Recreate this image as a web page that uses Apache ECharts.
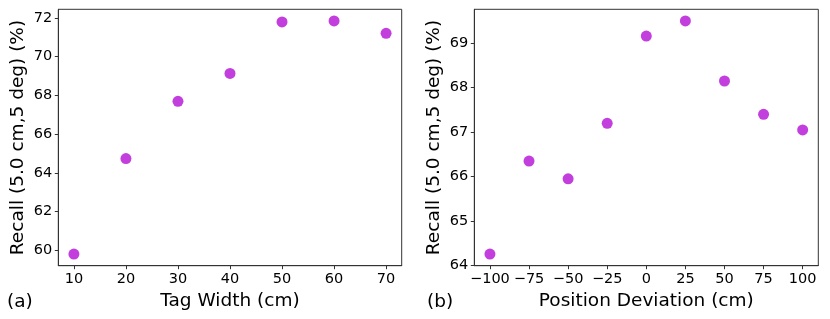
<!DOCTYPE html>
<html>
<head>
<meta charset="utf-8">
<script src="https://cdn.jsdelivr.net/npm/echarts@6/dist/echarts.min.js"></script>
<style>html,body{margin:0;padding:0;background:#fff}#c{width:830px;height:319px}</style>
</head>
<body>
<div id="c"></div>
<script>
// Panel (a)
var tagWidth = [10, 20, 30, 40, 50, 60, 70];
var recallA = [59.81, 64.74, 67.69, 69.13, 71.79, 71.84, 71.2];
var ticksAX = [10, 20, 30, 40, 50, 60, 70];
var ticksAY = [60, 62, 64, 66, 68, 70, 72];
// Panel (b)
var deviation = [-100, -75, -50, -25, 0, 25, 50, 75, 100];
var recallB = [64.26, 66.35, 65.95, 67.2, 69.16, 69.5, 68.15, 67.4, 67.05];
var ticksBX = [-100, -75, -50, -25, 0, 25, 50, 75, 100];
var ticksBY = [64, 65, 66, 67, 68, 69];

var FONT = 'DejaVu Sans';
var TXT = '#000';
var DOT = '#c23fdd';

function pad(arr) {
  var lo = Math.min.apply(null, arr), hi = Math.max.apply(null, arr);
  var m = (hi - lo) * 0.05;
  return [lo - m, hi + m];
}
var ax = pad(tagWidth), ay = pad(recallA), bx = pad(deviation), by = pad(recallB);

function fmt(v) { return (v < 0 ? '\u2212' + (-v) : String(v)); }

function xAxis(idx, ext, ticks, name) {
  return {
    type: 'value', gridIndex: idx, min: ext[0], max: ext[1],
    name: name, nameLocation: 'middle', nameGap: 23,
    nameTextStyle: {fontFamily: FONT, fontSize: 18.5, color: TXT},
    axisLine: {show: true, onZero: false, lineStyle: {color: '#333', width: 1}},
    axisTick: {show: true, customValues: ticks, length: 3.5, inside: false, lineStyle: {color: '#333'}},
    axisLabel: {customValues: ticks, formatter: fmt, fontFamily: FONT, fontSize: 14.5, color: TXT, margin: 6},
    splitLine: {show: false}
  };
}
function yAxis(idx, ext, ticks, name) {
  return {
    type: 'value', gridIndex: idx, min: ext[0], max: ext[1],
    name: name, nameLocation: 'middle', nameGap: 31,
    nameTextStyle: {fontFamily: FONT, fontSize: 18.5, color: TXT},
    axisLine: {show: true, onZero: false, lineStyle: {color: '#333', width: 1}},
    axisTick: {show: true, customValues: ticks, length: 3.5, inside: false, lineStyle: {color: '#333'}},
    axisLabel: {customValues: ticks, formatter: fmt, fontFamily: FONT, fontSize: 14.5, color: TXT, margin: 6},
    splitLine: {show: false}
  };
}

var chart = echarts.init(document.getElementById('c'), null, {renderer: 'canvas'});
chart.setOption({
  animation: false,
  backgroundColor: '#fff',
  grid: [
    {left: 58.3, top: 9.3, width: 343.4, height: 256.4, show: true, borderColor: '#333', borderWidth: 1, backgroundColor: 'transparent'},
    {left: 474.3, top: 9.3, width: 344, height: 256.4, show: true, borderColor: '#333', borderWidth: 1, backgroundColor: 'transparent'}
  ],
  xAxis: [
    xAxis(0, ax, ticksAX, 'Tag Width (cm)'),
    xAxis(1, bx, ticksBX, 'Position Deviation (cm)')
  ],
  yAxis: [
    yAxis(0, ay, ticksAY, 'Recall (5.0 cm,5 deg) (%)'),
    yAxis(1, by, ticksBY, 'Recall (5.0 cm,5 deg) (%)')
  ],
  series: [
    {type: 'scatter', xAxisIndex: 0, yAxisIndex: 0, symbolSize: 11,
     itemStyle: {color: DOT, opacity: 1},
     data: tagWidth.map(function (x, i) { return [x, recallA[i]]; })},
    {type: 'scatter', xAxisIndex: 1, yAxisIndex: 1, symbolSize: 11,
     itemStyle: {color: DOT, opacity: 1},
     data: deviation.map(function (x, i) { return [x, recallB[i]]; })}
  ],
  graphic: [
    {type: 'text', left: 7, top: 293, style: {text: '(a)', font: '18.5px "DejaVu Sans"', fill: TXT}},
    {type: 'text', left: 427, top: 293, style: {text: '(b)', font: '18.5px "DejaVu Sans"', fill: TXT}}
  ]
});
</script>
</body>
</html>
